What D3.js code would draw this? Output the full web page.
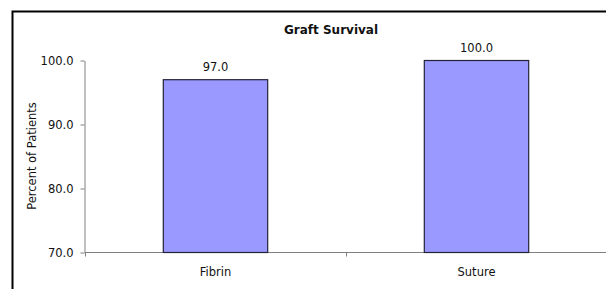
<!DOCTYPE html>
<html>
<head>
<meta charset="utf-8">
<script src="https://cdn.jsdelivr.net/npm/d3@7"></script>
<style>
  body { margin: 0; background: #fff; }
  svg text { font-family: "DejaVu Sans", Verdana, sans-serif; fill: #111; }
</style>
</head>
<body>
<svg width="606" height="289"></svg>
<script>
var categories = ["Fibrin", "Suture"];
var values = [97.0, 100.0];
var yTicks = [70, 80, 90, 100];

var svg = d3.select("svg");

// outer chart frame (only top and left edges are visible in the crop)
svg.append("path")
    .attr("d", "M12.5,289 V11.5 H606")
    .attr("fill", "none")
    .attr("stroke", "#000")
    .attr("stroke-width", 2);

var x = d3.scaleBand()
    .domain(categories)
    .range([85, 607])
    .paddingInner(0.6)
    .paddingOuter(0.3);

var y = d3.scaleLinear()
    .domain([70, 100])
    .range([252.5, 60.5]);

svg.append("text")
    .attr("x", 331)
    .attr("y", 33.5)
    .attr("text-anchor", "middle")
    .attr("font-size", "12px")
    .attr("font-weight", "bold")
    .text("Graft Survival");

// y axis
var yAxis = svg.append("g")
    .attr("transform", "translate(84.5,0)")
    .call(d3.axisLeft(y).tickValues(yTicks).tickFormat(d3.format(".1f"))
        .tickSize(4).tickSizeOuter(0).tickPadding(7));
yAxis.selectAll("line, path").attr("stroke", "#808080");
yAxis.selectAll("text").attr("font-size", "11.5px").style("font-family", "DejaVu Sans").attr("fill", "#111");

// x axis: ticks at category boundaries
var xAxisG = svg.append("g").attr("transform", "translate(0,252.5)");
xAxisG.append("line")
    .attr("x1", 85).attr("x2", 607)
    .attr("stroke", "#808080");
var bounds = [85, (x(categories[0]) + x.bandwidth() + x(categories[1])) / 2, 607];
xAxisG.selectAll(".tk").data(bounds).enter().append("line")
    .attr("x1", function(d) { return Math.round(d) + 0.5; })
    .attr("x2", function(d) { return Math.round(d) + 0.5; })
    .attr("y1", 0).attr("y2", 4)
    .attr("stroke", "#808080");
xAxisG.selectAll(".lbl").data(categories).enter().append("text")
    .attr("x", function(d) { return x(d) + x.bandwidth() / 2; })
    .attr("y", 23.5)
    .attr("text-anchor", "middle")
    .attr("font-size", "11.5px")
    .text(function(d) { return d; });

// y label
svg.append("text")
    .attr("transform", "translate(36,156) rotate(-90)")
    .attr("text-anchor", "middle")
    .attr("font-size", "11.5px")
    .text("Percent of Patients");

// bars
svg.selectAll(".bar").data(values).enter().append("rect")
    .attr("x", function(d, i) { return x(categories[i]); })
    .attr("y", function(d) { return y(d); })
    .attr("width", x.bandwidth())
    .attr("height", function(d) { return y(70) - y(d); })
    .attr("fill", "#9999ff")
    .attr("stroke", "#22223a")
    .attr("stroke-width", 1.2);

svg.selectAll(".val").data(values).enter().append("text")
    .attr("x", function(d, i) { return x(categories[i]) + x.bandwidth() / 2; })
    .attr("y", function(d) { return y(d) - 8.5; })
    .attr("text-anchor", "middle")
    .attr("font-size", "11.5px")
    .text(function(d) { return d3.format(".1f")(d); });
</script>
</body>
</html>
